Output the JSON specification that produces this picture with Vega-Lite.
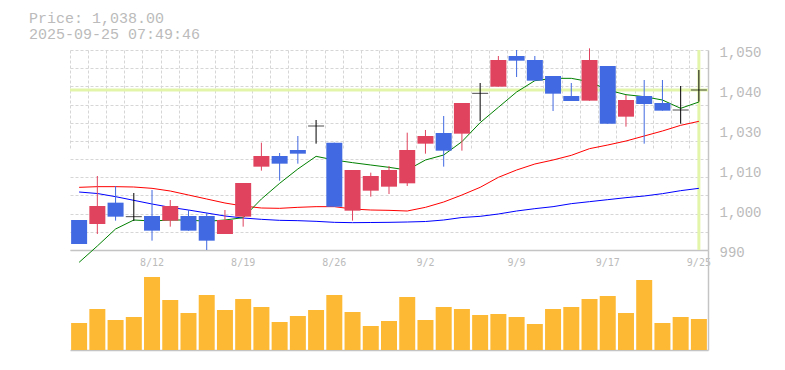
{
  "$schema": "https://vega.github.io/schema/vega-lite/v6.json",
  "autosize": {"type": "none"},
  "padding": {"left": 70, "top": 50, "right": 77, "bottom": 20},
  "width": 638,
  "height": 300,
  "title": {
    "text": ["Price: 1,038.00", "2025-09-25 07:49:46"],
    "anchor": "start",
    "frame": "group",
    "dx": -41,
    "offset": 4,
    "font": "Liberation Mono",
    "fontSize": 15,
    "fontWeight": "normal",
    "color": "#bbbbbb",
    "lineHeight": 16
  },
  "config": {"view": {"stroke": null}},
  "data": {
    "values": [
      {"date": "2025-08-05", "open": 999, "high": 999, "low": 991.8, "close": 991.8, "volume": 27000, "ma5": 986.3, "ma25": 1008.8, "ma75": 1007.4},
      {"date": "2025-08-06", "open": 997.8, "high": 1012.2, "low": 994.8, "close": 1003.2, "volume": 41000, "ma5": 991.2, "ma25": 1009, "ma75": 1006.95},
      {"date": "2025-08-07", "open": 1004.2, "high": 1009.2, "low": 998.8, "close": 1000, "volume": 30000, "ma5": 996.3, "ma25": 1009, "ma75": 1006},
      {"date": "2025-08-08", "open": 1000, "high": 1007.1, "low": 998.7, "close": 1000, "volume": 33000, "ma5": 999, "ma25": 1008.9, "ma75": 1004.9},
      {"date": "2025-08-12", "open": 1000.2, "high": 1008, "low": 992.8, "close": 995.8, "volume": 73000, "ma5": 998.7, "ma25": 1008.5, "ma75": 1003.8},
      {"date": "2025-08-13", "open": 998.8, "high": 1005, "low": 997, "close": 1003.2, "volume": 50000, "ma5": 999, "ma25": 1007.7, "ma75": 1002.8},
      {"date": "2025-08-14", "open": 1000.2, "high": 1002, "low": 995.8, "close": 995.8, "volume": 37000, "ma5": 999, "ma25": 1006.5, "ma75": 1002},
      {"date": "2025-08-15", "open": 1000.2, "high": 1001.2, "low": 990, "close": 992.8, "volume": 55000, "ma5": 998.6, "ma25": 1005.3, "ma75": 1001.1},
      {"date": "2025-08-18", "open": 994.8, "high": 1002, "low": 994.8, "close": 999, "volume": 40000, "ma5": 999, "ma25": 1004.1, "ma75": 1000.2},
      {"date": "2025-08-19", "open": 1000, "high": 1010.1, "low": 997, "close": 1010.1, "volume": 51000, "ma5": 999.7, "ma25": 1003.2, "ma75": 999.6},
      {"date": "2025-08-20", "open": 1015, "high": 1022.2, "low": 1013.8, "close": 1018.2, "volume": 43000, "ma5": 1005.3, "ma25": 1002.6, "ma75": 999.2},
      {"date": "2025-08-21", "open": 1018.2, "high": 1019.1, "low": 1010.8, "close": 1015.9, "volume": 28000, "ma5": 1010, "ma25": 1002.5, "ma75": 998.9},
      {"date": "2025-08-22", "open": 1020, "high": 1024.2, "low": 1015.9, "close": 1018.9, "volume": 34000, "ma5": 1014.3, "ma25": 1002.8, "ma75": 998.8},
      {"date": "2025-08-25", "open": 1027.2, "high": 1029, "low": 1021.9, "close": 1027.2, "volume": 40000, "ma5": 1018.1, "ma25": 1003, "ma75": 998.6},
      {"date": "2025-08-26", "open": 1022.2, "high": 1022.2, "low": 1003, "close": 1003, "volume": 55000, "ma5": 1017, "ma25": 1003, "ma75": 998.3},
      {"date": "2025-08-27", "open": 1001.8, "high": 1014, "low": 998.8, "close": 1014, "volume": 38000, "ma5": 1016.2, "ma25": 1002.3, "ma75": 998.2},
      {"date": "2025-08-28", "open": 1007.8, "high": 1013.2, "low": 1006, "close": 1012.2, "volume": 24000, "ma5": 1015.5, "ma25": 1002, "ma75": 998.25},
      {"date": "2025-08-29", "open": 1009, "high": 1015.2, "low": 1006.8, "close": 1014, "volume": 29000, "ma5": 1014.8, "ma25": 1001.9, "ma75": 998.3},
      {"date": "2025-09-01", "open": 1010, "high": 1025.2, "low": 1009.2, "close": 1020, "volume": 53000, "ma5": 1014, "ma25": 1001.7, "ma75": 998.4},
      {"date": "2025-09-02", "open": 1021.9, "high": 1026, "low": 1018.9, "close": 1024.2, "volume": 30000, "ma5": 1017, "ma25": 1002.8, "ma75": 998.55},
      {"date": "2025-09-03", "open": 1025.1, "high": 1030.2, "low": 1015, "close": 1019.8, "volume": 43000, "ma5": 1018.5, "ma25": 1004.4, "ma75": 999},
      {"date": "2025-09-04", "open": 1024.9, "high": 1034.1, "low": 1019.8, "close": 1034.1, "volume": 41000, "ma5": 1022.5, "ma25": 1006.5, "ma75": 999.75},
      {"date": "2025-09-05", "open": 1037, "high": 1040.1, "low": 1028.7, "close": 1037, "volume": 35000, "ma5": 1028.2, "ma25": 1008.8, "ma75": 1000.1},
      {"date": "2025-09-08", "open": 1039, "high": 1048.2, "low": 1039, "close": 1047, "volume": 36000, "ma5": 1032.8, "ma25": 1011.8, "ma75": 1000.8},
      {"date": "2025-09-09", "open": 1048.2, "high": 1050, "low": 1041.9, "close": 1046.8, "volume": 33000, "ma5": 1037.4, "ma25": 1014, "ma75": 1001.7},
      {"date": "2025-09-10", "open": 1047, "high": 1048.2, "low": 1040.8, "close": 1040.8, "volume": 26000, "ma5": 1040.8, "ma25": 1015.8, "ma75": 1002.4},
      {"date": "2025-09-11", "open": 1042.2, "high": 1042.2, "low": 1031.7, "close": 1036.9, "volume": 41000, "ma5": 1041.5, "ma25": 1017, "ma75": 1003},
      {"date": "2025-09-12", "open": 1036.2, "high": 1040.1, "low": 1034.7, "close": 1034.7, "volume": 43000, "ma5": 1041.5, "ma25": 1018.4, "ma75": 1003.9},
      {"date": "2025-09-16", "open": 1034.8, "high": 1050.5, "low": 1034.8, "close": 1047, "volume": 51000, "ma5": 1040.5, "ma25": 1020.4, "ma75": 1004.5},
      {"date": "2025-09-17", "open": 1045.2, "high": 1045.2, "low": 1027.9, "close": 1027.9, "volume": 54000, "ma5": 1038, "ma25": 1021.5, "ma75": 1005.1},
      {"date": "2025-09-18", "open": 1030, "high": 1036.5, "low": 1027, "close": 1035, "volume": 37000, "ma5": 1036.6, "ma25": 1022.7, "ma75": 1005.7},
      {"date": "2025-09-19", "open": 1036.2, "high": 1041, "low": 1021.9, "close": 1033.8, "volume": 70000, "ma5": 1036, "ma25": 1024.2, "ma75": 1006.2},
      {"date": "2025-09-22", "open": 1034.1, "high": 1041, "low": 1031.8, "close": 1031.8, "volume": 27000, "ma5": 1035, "ma25": 1025.7, "ma75": 1006.9},
      {"date": "2025-09-24", "open": 1032, "high": 1039.2, "low": 1027.9, "close": 1032, "volume": 33000, "ma5": 1032.5, "ma25": 1027.4, "ma75": 1007.8},
      {"date": "2025-09-25", "open": 1038, "high": 1044, "low": 1034.5, "close": 1038, "volume": 31000, "ma5": 1034.4, "ma25": 1028.6, "ma75": 1008.5}
    ]
  },
  "resolve": {
    "scale": {"y": "independent"},
    "axis": {"x": "independent", "y": "independent"}
  },
  "layer": [
    {
      "mark": {"type": "bar", "color": "#fdb934", "width": 16, "y2Offset": -2},
      "encoding": {
        "x": {
          "field": "date", "type": "ordinal",
          "scale": {"type": "band", "paddingInner": 0, "paddingOuter": 0},
          "axis": {
            "orient": "bottom", "bandPosition": 0, "grid": true, "gridDash": [3, 2],
            "gridColor": "#d6d6d6", "gridWidth": 1, "labels": false, "ticks": false,
            "domain": true, "domainColor": "#c4c4c4", "domainWidth": 1.5, "title": null
          }
        },
        "y": {
          "field": "volume", "type": "quantitative",
          "scale": {"domain": [0, 100000], "range": [300, 200], "nice": false, "zero": true},
          "axis": {
            "orient": "right", "labels": false, "ticks": false, "grid": false,
            "domain": true, "domainColor": "#c4c4c4", "domainWidth": 1.5, "title": null
          }
        }
      }
    },
    {
      "data": {"values": [{}]},
      "mark": {"type": "rule", "color": "#e2f5a9", "strokeWidth": 3},
      "encoding": {
        "y": {
          "datum": 1038,
          "scale": {"domain": [990, 1050], "range": [200, 0], "zero": false, "nice": false},
          "axis": null
        }
      }
    },
    {
      "data": {"values": [{}]},
      "mark": {"type": "rule", "color": "#e2f5a9", "strokeWidth": 3},
      "encoding": {
        "x": {
          "datum": "2025-09-25", "type": "ordinal",
          "scale": {"type": "band", "paddingInner": 0, "paddingOuter": 0},
          "axis": null
        },
        "y": {
          "datum": 1050, "type": "quantitative",
          "scale": {"domain": [990, 1050], "range": [200, 0], "zero": false, "nice": false},
          "axis": null
        },
        "y2": {"datum": 990}
      }
    },
    {
      "mark": {"type": "line", "color": "#0000ff", "strokeWidth": 1},
      "encoding": {
        "x": {"field": "date", "type": "ordinal", "scale": {"type": "band", "paddingInner": 0, "paddingOuter": 0}, "axis": null},
        "y": {"field": "ma75", "type": "quantitative", "scale": {"domain": [990, 1050], "range": [200, 0], "zero": false, "nice": false}, "axis": null}
      }
    },
    {
      "mark": {"type": "line", "color": "#ff0000", "strokeWidth": 1},
      "encoding": {
        "x": {"field": "date", "type": "ordinal", "scale": {"type": "band", "paddingInner": 0, "paddingOuter": 0}, "axis": null},
        "y": {"field": "ma25", "type": "quantitative", "scale": {"domain": [990, 1050], "range": [200, 0], "zero": false, "nice": false}, "axis": null}
      }
    },
    {
      "mark": {"type": "line", "color": "#008000", "strokeWidth": 1},
      "encoding": {
        "x": {"field": "date", "type": "ordinal", "scale": {"type": "band", "paddingInner": 0, "paddingOuter": 0}, "axis": null},
        "y": {"field": "ma5", "type": "quantitative", "scale": {"domain": [990, 1050], "range": [200, 0], "zero": false, "nice": false}, "axis": null}
      }
    },
    {
      "mark": {"type": "rule", "strokeWidth": 1},
      "encoding": {
        "x": {
          "field": "date", "type": "ordinal",
          "scale": {"type": "band", "paddingInner": 0, "paddingOuter": 0},
          "axis": {
            "orient": "bottom", "offset": -100, "grid": false, "ticks": false,
            "domain": true, "domainColor": "#c4c4c4", "domainWidth": 1.5,
            "values": ["2025-08-12", "2025-08-19", "2025-08-26", "2025-09-02", "2025-09-09", "2025-09-17", "2025-09-25"],
            "labelExpr": "toNumber(substring(datum.value, 5, 7)) + '/' + toNumber(substring(datum.value, 8, 10))",
            "labelAngle": 0, "labelAlign": "center", "labelBaseline": "top",
            "labelFont": "DejaVu Sans Mono", "labelFontSize": 10, "labelColor": "#bbbbbb",
            "labelPadding": 7, "labelOverlap": false, "labelFlush": false, "labelBound": false, "title": null
          }
        },
        "y": {
          "field": "low", "type": "quantitative",
          "scale": {"domain": [990, 1050], "range": [200, 0], "zero": false, "nice": false},
          "axis": {
            "orient": "right", "values": [990, 1002, 1014, 1026, 1038, 1050],
            "labelExpr": "format(round(datum.value / 10) * 10, ',')",
            "grid": false, "ticks": false, "domain": true, "domainColor": "#c4c4c4", "domainWidth": 1.5,
            "labelFont": "Liberation Mono", "labelFontSize": 14, "labelColor": "#bbbbbb",
            "labelPadding": 11, "labelOffset": 2.5, "labelFlush": false, "labelOverlap": false,
            "labelBound": false, "title": null
          }
        },
        "y2": {"field": "high"},
        "color": {
          "condition": [
            {"test": "datum.close > datum.open", "value": "#e0435e"},
            {"test": "datum.close < datum.open", "value": "#4169e1"}
          ],
          "value": "#000000"
        }
      }
    },
    {
      "mark": {"type": "bar", "width": 16},
      "encoding": {
        "x": {"field": "date", "type": "ordinal", "scale": {"type": "band", "paddingInner": 0, "paddingOuter": 0}, "axis": null},
        "y": {
          "field": "open", "type": "quantitative",
          "scale": {"domain": [990, 1050], "range": [200, 0], "zero": false, "nice": false},
          "axis": {
            "orient": "left", "labels": false, "ticks": false, "domain": false,
            "grid": true, "gridDash": [3, 2], "gridColor": "#d6d6d6", "gridWidth": 1,
            "values": [990, 995.4545, 1000.9091, 1006.3636, 1011.8182, 1017.2727, 1022.7273, 1028.1818, 1033.6364, 1039.0909, 1044.5455, 1050],
            "title": null
          }
        },
        "y2": {"field": "close"},
        "color": {
          "condition": [
            {"test": "datum.close > datum.open", "value": "#e0435e"},
            {"test": "datum.close < datum.open", "value": "#4169e1"}
          ],
          "value": "#000000"
        }
      }
    },
    {
      "transform": [{"filter": "datum.open == datum.close"}],
      "mark": {"type": "tick", "color": "#000000", "thickness": 1, "size": 16},
      "encoding": {
        "x": {"field": "date", "type": "ordinal", "scale": {"type": "band", "paddingInner": 0, "paddingOuter": 0}, "axis": null},
        "y": {"field": "close", "type": "quantitative", "scale": {"domain": [990, 1050], "range": [200, 0], "zero": false, "nice": false}, "axis": null}
      }
    }
  ]
}
